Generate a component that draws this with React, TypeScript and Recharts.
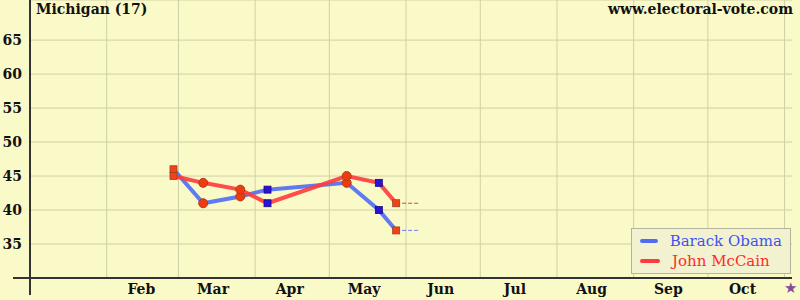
import { LineChart, Line, XAxis, YAxis, CartesianGrid, ReferenceLine } from "recharts";

// day of year 2008 (Jan 1 = 0)
const pollDays = [58, 70, 85, 96, 128, 141, 148];
const obama = [46, 41, 42, 43, 44, 40, 37];
const mccain = [45, 44, 43, 41, 45, 44, 41];
const pollMarks = ["redSquare", "circle", "circle", "blueSquare", "circle", "blueSquare", "redSquare"];
const lastDay = 157;

const monthLabels = ["Feb", "Mar", "Apr", "May", "Jun", "Jul", "Aug", "Sep", "Oct"];
const monthMids = [45, 74, 105, 135, 166, 196, 227, 258, 288];
const monthStarts = [31, 60, 91, 121, 152, 182, 213, 244, 274, 305];
const yTicks = [35, 40, 45, 50, 55, 60, 65];

const data = pollDays.map((day, i) => ({ day, obama: obama[i], mccain: mccain[i], mark: pollMarks[i] }));
const n = pollDays.length - 1;
const obamaTail = [
  { day: pollDays[n], ob: obama[n] },
  { day: lastDay, ob: obama[n] },
];
const mccainTail = [
  { day: pollDays[n], mc: mccain[n] },
  { day: lastDay, mc: mccain[n] },
];

const font = "'DejaVu Serif', serif";
const BLUE = "#4f6cf5";
const RED = "#ff3a3a";

function Marker(props: any) {
  const { cx, cy, payload } = props;
  if (cx == null || cy == null) return null;
  if (payload.mark === "circle")
    return <circle cx={cx} cy={cy} r={4.5} fill="#f23a10" stroke="#a8401c" strokeWidth={1} />;
  if (payload.mark === "blueSquare")
    return <rect x={cx - 3.5} y={cy - 3.5} width={7} height={7} fill="#2a12d8" stroke="#1a0a80" strokeWidth={0.8} />;
  return <rect x={cx - 3.5} y={cy - 3.5} width={7} height={7} fill="#f04418" stroke="#a04020" strokeWidth={0.8} />;
}

function monthTick(v: number) {
  const i = monthMids.indexOf(v);
  return i >= 0 ? monthLabels[i] : "";
}

function LegendBox() {
  return (
    <div
      style={{
        position: "absolute",
        left: 631,
        top: 228,
        width: 142,
        background: "#f2f2d0",
        border: "1px solid #b4b49c",
        padding: "2px 8px 2px 8px",
        fontFamily: font,
        fontSize: 15,
        lineHeight: "20px",
      }}
    >
      {[
        { name: "Barack Obama", color: BLUE, text: "#3f51f0" },
        { name: "John McCain", color: RED, text: "#ff2a2a" },
      ].map((s) => (
        <div key={s.name} style={{ display: "flex", alignItems: "center", whiteSpace: "nowrap" }}>
          <span style={{ display: "inline-block", width: 20, height: 4, borderRadius: 2, background: s.color, marginRight: 12 }} />
          <span style={{ color: s.text }}>{s.name}</span>
        </div>
      ))}
    </div>
  );
}

export default function App() {
  return (
    <div style={{ position: "absolute", left: 0, top: 0, width: 800, height: 300, background: "#fafac8", overflow: "hidden" }}>
      <LineChart width={800} height={300} data={data} margin={{ top: 0, right: 8, left: 0, bottom: 0 }}>
        <CartesianGrid vertical={false} stroke="#cfcfa6" strokeWidth={1} />
        {monthStarts.map((d) => (
          <ReferenceLine key={d} x={d} stroke="#cfcfa6" strokeWidth={1} />
        ))}
        <XAxis
          type="number"
          dataKey="day"
          domain={[0, 308]}
          ticks={monthMids}
          tickFormatter={monthTick}
          interval={0}
          height={22}
          tickLine={false}
          axisLine={{ stroke: "#333", strokeWidth: 2 }}
          tick={{ fill: "#111", fontFamily: font, fontSize: 14, fontWeight: "bold" }}
          tickMargin={0}
          allowDataOverflow
        />
        <YAxis
          type="number"
          domain={[30, 70.9]}
          ticks={yTicks}
          interval={0}
          width={30}
          tickLine={false}
          axisLine={{ stroke: "#333", strokeWidth: 2 }}
          tick={{ fill: "#111", fontFamily: font, fontSize: 14, fontWeight: "bold" }}
          tickMargin={2}
          allowDataOverflow
        />
        <Line data={obamaTail} dataKey="ob" stroke="#6a80ff" strokeWidth={1} strokeDasharray="4 2" dot={false} isAnimationActive={false} />
        <Line data={mccainTail} dataKey="mc" stroke="#e04030" strokeWidth={1} strokeDasharray="4 2" dot={false} isAnimationActive={false} />
        <Line dataKey="obama" stroke={BLUE} strokeWidth={4} strokeOpacity={0.9} dot={false} isAnimationActive={false} />
        <Line dataKey="mccain" stroke={RED} strokeWidth={4} strokeOpacity={0.9} dot={false} isAnimationActive={false} />
        <Line dataKey="obama" stroke="none" dot={<Marker />} isAnimationActive={false} />
        <Line dataKey="mccain" stroke="none" dot={<Marker />} isAnimationActive={false} />
      </LineChart>
      <div style={{ position: "absolute", left: 29, top: 278, width: 2, height: 17, background: "#333" }} />
      <div style={{ position: "absolute", left: 13, top: 277, width: 17, height: 2, background: "#333" }} />
      <LegendBox />
      <div style={{ position: "absolute", left: 36, top: 1, fontFamily: font, fontSize: 14, fontWeight: "bold", color: "#111" }}>
        Michigan (17)
      </div>
      <div style={{ position: "absolute", right: 7, top: 1, fontFamily: font, fontSize: 14, fontWeight: "bold", color: "#111" }}>
        www.electoral-vote.com
      </div>
      <div style={{ position: "absolute", left: 784, top: 279, fontSize: 15, color: "#8a4a9a", fontFamily: "'DejaVu Sans', sans-serif" }}>
        ★
      </div>
    </div>
  );
}
